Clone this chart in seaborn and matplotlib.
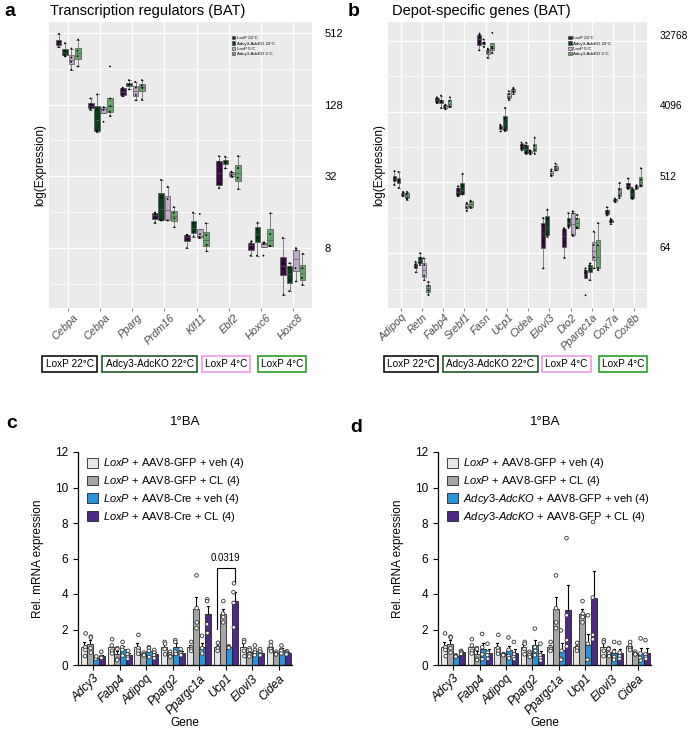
import numpy as np
import pandas as pd
import seaborn as sns
import matplotlib.pyplot as plt
import matplotlib.transforms as mtransforms

# ---- panels a/b: log2 expression, one list of 4 mice per gene ----
genes_a = ['Cebpa', 'Cebpa', 'Pparg', 'Prdm16', 'Klf11', 'Ebf2', 'Hoxc6', 'Hoxc8']
a_loxp_22 = [[8.97, 8.75, 8.69, 8.60], [7.17, 7.01, 6.92, 6.86], [7.47, 7.44, 7.27, 7.23],
             [3.99, 3.98, 3.84, 3.71], [3.37, 3.37, 3.25, 3.00], [5.56, 5.40, 4.79, 4.67],
             [3.19, 3.14, 3.01, 2.79], [3.28, 2.57, 2.44, 1.70]]
a_ko_22 = [[8.71, 8.50, 8.38, 8.34], [7.28, 6.85, 6.27, 6.24], [7.68, 7.56, 7.55, 7.42],
           [4.90, 4.40, 3.77, 3.77], [3.99, 3.68, 3.45, 3.32], [5.55, 5.41, 5.38, 5.22],
           [3.71, 3.53, 3.28, 2.79], [2.58, 2.46, 2.10, 1.80]]
a_loxp_5 = [[8.56, 8.31, 8.19, 7.97], [6.92, 6.92, 6.85, 6.52], [7.63, 7.47, 7.27, 7.12],
            [4.71, 4.37, 3.77, 3.77], [3.95, 3.39, 3.31, 3.28], [5.13, 5.10, 5.03, 4.99],
            [3.16, 3.14, 3.11, 2.79], [3.00, 2.94, 2.44, 2.07]]
a_ko_5 = [[8.81, 8.50, 8.35, 8.06], [8.06, 7.17, 6.95, 6.80, 6.68], [7.68, 7.53, 7.46, 7.14],
          [4.14, 3.98, 3.83, 3.58], [3.69, 3.36, 3.09, 2.91], [5.56, 5.23, 4.96, 4.64],
          [3.97, 3.39, 3.06, 3.05], [2.84, 2.44, 2.17, 1.98]]

genes_b = ['Adipoq', 'Retn', 'Fabp4', 'Srebf1', 'Fasn', 'Ucp1', 'Cidea', 'Elovl3', 'Dio2',
           'Ppargc1a', 'Cox7a', 'Cox8b']
b_loxp_22 = [[9.48, 9.20, 9.10, 8.91], [5.64, 5.54, 5.41, 5.19], [12.61, 12.55, 12.41, 12.36],
             [8.84, 8.74, 8.47, 8.42], [15.31, 15.24, 14.92, 14.60], [11.45, 11.39, 11.30, 11.16],
             [10.69, 10.59, 10.45, 10.36], [7.49, 7.21, 6.50, 5.36], [7.06, 7.02, 6.44, 5.81],
             [5.36, 5.27, 5.17, 4.22], [7.95, 7.78, 7.69, 7.60], [9.17, 8.92, 8.77, 8.74]]
b_ko_22 = [[9.45, 9.11, 9.05, 8.77], [6.00, 5.81, 5.59, 5.50], [12.68, 12.46, 12.42, 12.16],
           [9.37, 8.86, 8.52, 8.49], [15.06, 14.92, 14.89, 14.75], [12.16, 11.72, 11.23, 11.19],
           [10.69, 10.56, 10.26, 10.22], [7.85, 7.47, 6.79, 6.71], [7.70, 7.42, 7.15, 7.09],
           [5.57, 5.49, 5.33, 4.86], [7.46, 7.41, 7.33, 7.23], [8.77, 8.68, 8.34, 8.32]]
b_loxp_5 = [[8.60, 8.56, 8.46, 8.42], [5.78, 5.50, 5.05, 4.86], [12.30, 12.26, 12.18, 12.11],
            [8.13, 8.10, 7.93, 7.80], [14.67, 14.62, 14.50, 14.29], [12.87, 12.74, 12.58, 12.50],
            [10.36, 10.32, 10.26, 10.19], [9.55, 9.48, 9.31, 9.27], [7.78, 7.70, 6.79, 6.75],
            [6.92, 6.35, 5.83, 5.36], [8.32, 8.27, 8.22, 8.17], [8.88, 8.84, 8.77, 8.74]]
b_ko_5 = [[8.60, 8.51, 8.34, 8.27], [4.79, 4.62, 4.42, 4.25], [12.61, 12.46, 12.21, 12.21],
          [8.23, 8.19, 7.96, 7.92], [15.34, 14.74, 14.68, 14.49], [13.01, 12.94, 12.85, 12.75],
          [10.90, 10.56, 10.37, 10.22], [9.80, 9.67, 9.52, 9.51], [7.63, 7.45, 7.10, 7.06],
          [7.28, 6.33, 5.38, 5.29], [8.98, 8.70, 8.44, 8.34], [9.60, 9.12, 8.88, 8.84]]

groups_ab = ['LoxP 22°C', 'Adcy3-AdcKO 22°C', 'LoxP 5°C', 'Adcy3-AdcKO 5°C']
colors_ab = ['#40004b', '#00441b', '#c2a5cf', '#5aae61']
box_labels = ['LoxP 22°C', 'Adcy3-AdcKO 22°C', 'LoxP 4°C', 'LoxP 4°C']
box_edges = ['#111111', '#1f5a2c', '#ef9be6', '#2a9d2a']

# ---- panels c/d: rel. mRNA expression, 4 mice per bar ----
genes_cd = ['Adcy3', 'Fabp4', 'Adipoq', 'Pparg2', 'Ppargc1a', 'Ucp1', 'Elovl3', 'Cidea']
c_gfp_veh = [[1.78, 1.0, 0.85, 0.5], [1.45, 1.1, 0.8, 0.65], [1.7, 0.95, 0.8, 0.63],
             [1.3, 1.2, 0.9, 0.6], [1.3, 1.0, 0.9, 0.8], [1.25, 1.0, 0.95, 0.8],
             [1.4, 1.3, 0.8, 0.5], [1.3, 1.1, 0.9, 0.78]]
c_gfp_cl = [[1.6, 1.55, 0.95, 0.7], [0.95, 0.9, 0.35, 0.28], [0.7, 0.6, 0.55, 0.55],
            [0.75, 0.6, 0.5, 0.47], [5.05, 3.2, 2.4, 2.07], [3.6, 2.9, 2.7, 2.4],
            [0.95, 0.85, 0.6, 0.48], [0.75, 0.65, 0.6, 0.6]]
c_cre_veh = [[0.45, 0.4, 0.35, 0.48], [1.3, 1.0, 0.85, 0.53], [1.0, 0.95, 0.8, 0.45],
             [1.4, 1.3, 0.75, 0.63], [1.65, 0.95, 0.75, 0.65], [1.05, 1.0, 0.98, 0.97],
             [1.1, 0.85, 0.7, 0.55], [1.1, 0.85, 0.8, 0.65]]
c_cre_cl = [[0.75, 0.45, 0.4, 0.4], [0.8, 0.6, 0.45, 0.35], [0.85, 0.7, 0.55, 0.38],
            [0.9, 0.7, 0.65, 0.55], [3.7, 3.6, 2.3, 1.8], [4.6, 4.1, 3.5, 2.12],
            [0.9, 0.75, 0.6, 0.55], [0.78, 0.7, 0.65, 0.6]]

d_gfp_veh = [[1.78, 1.0, 0.85, 0.5], [1.45, 1.1, 0.8, 0.65], [1.7, 0.95, 0.8, 0.63],
             [1.3, 1.2, 0.9, 0.6], [1.3, 1.0, 0.9, 0.8], [1.25, 1.0, 0.95, 0.8],
             [1.4, 1.3, 0.8, 0.5], [1.3, 1.1, 0.95, 0.85]]
d_gfp_cl = [[1.6, 1.55, 0.95, 0.7], [0.95, 0.9, 0.35, 0.28], [0.62, 0.6, 0.55, 0.55],
            [0.75, 0.65, 0.55, 0.45], [5.05, 3.2, 2.4, 2.07], [3.6, 2.9, 2.7, 2.4],
            [0.95, 0.9, 0.65, 0.5], [0.75, 0.65, 0.6, 0.6]]
d_ko_veh = [[0.55, 0.5, 0.48, 0.47], [1.75, 1.0, 0.6, 0.33], [1.55, 0.85, 0.5, 0.38],
            [2.05, 1.0, 0.8, 0.55], [1.95, 0.8, 0.35, 0.3], [2.8, 1.2, 0.3, 0.3],
            [1.3, 0.75, 0.45, 0.3], [1.5, 0.65, 0.4, 0.25]]
d_ko_cl = [[0.8, 0.75, 0.7, 0.63], [1.2, 0.7, 0.55, 0.35], [1.3, 0.6, 0.45, 0.33],
           [1.2, 0.55, 0.4, 0.25], [7.15, 2.8, 1.4, 1.05], [8.06, 3.8, 1.7, 1.45],
           [1.25, 0.7, 0.5, 0.35], [1.4, 0.6, 0.45, 0.35]]

groups_cd = ['gfp_veh', 'gfp_cl', 'x_veh', 'x_cl']
colors_cd = ['#e6e6e6', '#a6a6a6', '#0a9cf5', '#4b1996']
labels_c = [r'$\it{LoxP}$ + AAV8-GFP + veh (4)', r'$\it{LoxP}$ + AAV8-GFP + CL (4)',
            r'$\it{LoxP}$ + AAV8-Cre + veh (4)', r'$\it{LoxP}$ + AAV8-Cre + CL (4)']
labels_d = [r'$\it{LoxP}$ + AAV8-GFP + veh (4)', r'$\it{LoxP}$ + AAV8-GFP + CL (4)',
            r'$\it{Adcy3}$-$\it{AdcKO}$ + AAV8-GFP + veh (4)',
            r'$\it{Adcy3}$-$\it{AdcKO}$ + AAV8-GFP + CL (4)']

plt.rcParams['font.family'] = ['Liberation Sans', 'DejaVu Sans']
plt.rcParams['mathtext.fontset'] = 'custom'
plt.rcParams['mathtext.rm'] = 'Liberation Sans'
plt.rcParams['mathtext.it'] = 'Liberation Sans:italic'


def long_table(genes, series, groups):
    rows = []
    for grp, vals in zip(groups, series):
        for i, pts in enumerate(vals):
            for v in pts:
                rows.append((f'{i}_{genes[i]}', grp, v))
    return pd.DataFrame(rows, columns=['gene', 'group', 'value'])


def box_panel(ax, df, genes, ylim, majors, major_labels, minors, ylab_size, ylab_shift, xlab_shift):
    order = [f'{i}_{g}' for i, g in enumerate(genes)]
    ax.set_facecolor('#ebebeb')
    ax.set_axisbelow(True)
    sns.boxplot(data=df, x='gene', y='value', hue='group', order=order, hue_order=groups_ab,
                palette=colors_ab, width=0.8, gap=0.12, linewidth=0.5, linecolor='#555555',
                showfliers=False, ax=ax)
    sns.stripplot(data=df, x='gene', y='value', hue='group', order=order, hue_order=groups_ab,
                  palette=['black'] * 4, dodge=True, jitter=0.06, size=1.3, legend=False, ax=ax)
    ax.set_ylim(*ylim)
    ax.set_xlim(-0.6, len(genes) - 0.4)
    ax.set_yticks(majors)
    ax.set_yticklabels(major_labels)
    ax.set_yticks(minors, minor=True)
    ax.yaxis.tick_right()
    ax.yaxis.set_label_position('left')
    ax.grid(which='major', color='white', lw=1.0)
    ax.grid(which='minor', axis='y', color='white', lw=0.5)
    ax.tick_params(axis='y', which='both', length=0, pad=9, labelsize=ylab_size)
    ax.tick_params(axis='x', length=2, color='#888888', pad=1)
    ax.set_xticks(range(len(genes)))
    ax.set_xticklabels(genes, rotation=45, ha='right', rotation_mode='anchor',
                       fontstyle='italic', fontsize=7.8, color='#4d4d4d')
    shift_x = mtransforms.ScaledTranslation(xlab_shift / 72, 0, ax.figure.dpi_scale_trans)
    for lab in ax.get_xticklabels():
        lab.set_transform(lab.get_transform() + shift_x)
    shift_y = mtransforms.ScaledTranslation(0, ylab_shift / 72, ax.figure.dpi_scale_trans)
    for lab in ax.get_yticklabels():
        lab.set_transform(lab.get_transform() + shift_y)
    for s in ax.spines.values():
        s.set_visible(False)
    ax.set_xlabel('')
    ax.set_ylabel('log(Expression)', fontsize=8.5, labelpad=2)
    sns.move_legend(ax, 'upper left', bbox_to_anchor=(0.68, 0.965), title=None, frameon=False,
                    fontsize=3.2, handlelength=0.8, handleheight=0.8, labelspacing=0.25,
                    handletextpad=0.4)


def bar_panel(ax, df, labels):
    order = [f'{i}_{g}' for i, g in enumerate(genes_cd)]
    sns.barplot(data=df, x='gene', y='value', hue='group', order=order, hue_order=groups_cd,
                palette=colors_cd, width=0.9, errorbar='se', capsize=0.3,
                err_kws={'linewidth': 0.8, 'color': 'black'}, edgecolor='#222222',
                linewidth=0.6, ax=ax)
    for ln in ax.lines:
        ln.set_zorder(0.9)
    sns.stripplot(data=df, x='gene', y='value', hue='group', order=order, hue_order=groups_cd,
                  palette=['white'] * 4, dodge=True, jitter=0.05, size=2.6, linewidth=0.6,
                  edgecolor='#333333', legend=False, ax=ax, zorder=3)
    ax.set_ylim(0, 12)
    ax.set_xlim(-0.58, 7.5)
    ax.set_yticks(range(0, 13, 2))
    ax.set_xticks(range(len(genes_cd)))
    ax.set_xticklabels(genes_cd, rotation=45, ha='right', rotation_mode='anchor',
                       fontstyle='italic', fontsize=8.5)
    ax.tick_params(axis='both', length=3.5, width=0.8, labelsize=8.5)
    ax.tick_params(axis='x', pad=2)
    sns.despine(ax=ax)
    for s in ('left', 'bottom'):
        ax.spines[s].set_linewidth(0.9)
    ax.set_xlabel('Gene', fontsize=8.5, labelpad=0)
    ax.set_ylabel('Rel. mRNA expression', fontsize=8.5, labelpad=8)
    handles, _ = ax.get_legend_handles_labels()
    ax.legend(handles, labels, loc='upper left', bbox_to_anchor=(0.02, 1.0), frameon=False,
              fontsize=8, handlelength=1.0, handleheight=1.0, labelspacing=0.35,
              handletextpad=0.5, borderaxespad=0)


df_a = long_table(genes_a, [a_loxp_22, a_ko_22, a_loxp_5, a_ko_5], groups_ab)
df_b = long_table(genes_b, [b_loxp_22, b_ko_22, b_loxp_5, b_ko_5], groups_ab)
df_c = long_table(genes_cd, [c_gfp_veh, c_gfp_cl, c_cre_veh, c_cre_cl], groups_cd)
df_d = long_table(genes_cd, [d_gfp_veh, d_gfp_cl, d_ko_veh, d_ko_cl], groups_cd)

W, H = 691, 730
fig = plt.figure(figsize=(W / 100, H / 100), dpi=100)
ax_a = fig.add_axes([49 / W, 1 - 308 / H, 263 / W, 286 / H])
ax_b = fig.add_axes([388 / W, 1 - 308 / H, 259 / W, 286 / H])
ax_c = fig.add_axes([78 / W, 1 - 665 / H, 214 / W, 213 / H])
ax_d = fig.add_axes([438 / W, 1 - 665 / H, 213 / W, 213 / H])

box_panel(ax_a, df_a, genes_a, (1.33, 9.3), [3, 5, 7, 9], ['8', '32', '128', '512'],
          [2, 4, 6, 8], 8, 0, 3.5)
box_panel(ax_b, df_b, genes_b, (3.68, 15.8), [6, 9, 12, 15], ['64', '512', '4096', '32768'],
          [4.5, 7.5, 10.5, 13.5], 7.3, 4.5, 0.5)

bar_panel(ax_c, df_c, labels_c)
bar_panel(ax_d, df_d, labels_d)

# significance bracket, panel c (Ucp1: LoxP+GFP+veh vs LoxP+Cre+CL)
ucp = genes_cd.index('Ucp1')
b1 = ax_c.containers[0][ucp]
b4 = ax_c.containers[3][ucp]
x1 = b1.get_x() + b1.get_width() / 2
x4 = b4.get_x() + b4.get_width() / 2
ax_c.plot([x1, x1, x4, x4], [2.05, 5.45, 5.45, 4.7], color='black', lw=0.8)
ax_c.text((x1 + x4) / 2, 5.75, '0.0319', ha='center', va='bottom', fontsize=7)

# panel letters and titles
for x, y, s in [(4, 12, 'a'), (348, 12, 'b'), (6, 423, 'c'), (350, 428, 'd')]:
    fig.text(x / W, 1 - y / H, s, fontsize=14, fontweight='bold', va='center')
fig.text(50 / W, 1 - 11 / H, 'Transcription regulators (BAT)', fontsize=10.5, va='center')
fig.text(392 / W, 1 - 11 / H, 'Depot-specific genes (BAT)', fontsize=10.5, va='center')
fig.text(185 / W, 1 - 422 / H, '1°BA', fontsize=9.5, ha='center', va='center')
fig.text(545 / W, 1 - 422 / H, '1°BA', fontsize=9.5, ha='center', va='center')

# boxed group keys under panels a and b
for xs in ([69.5, 149.5, 226, 282], [411, 490.5, 566.5, 623]):
    for x, lab, ec in zip(xs, box_labels, box_edges):
        fig.text(x / W, 1 - 364 / H, lab, fontsize=7.2, ha='center', va='center',
                 bbox=dict(boxstyle='square,pad=0.32', fc='white', ec=ec, lw=1.2))

fig.savefig('out.png', dpi=100)
